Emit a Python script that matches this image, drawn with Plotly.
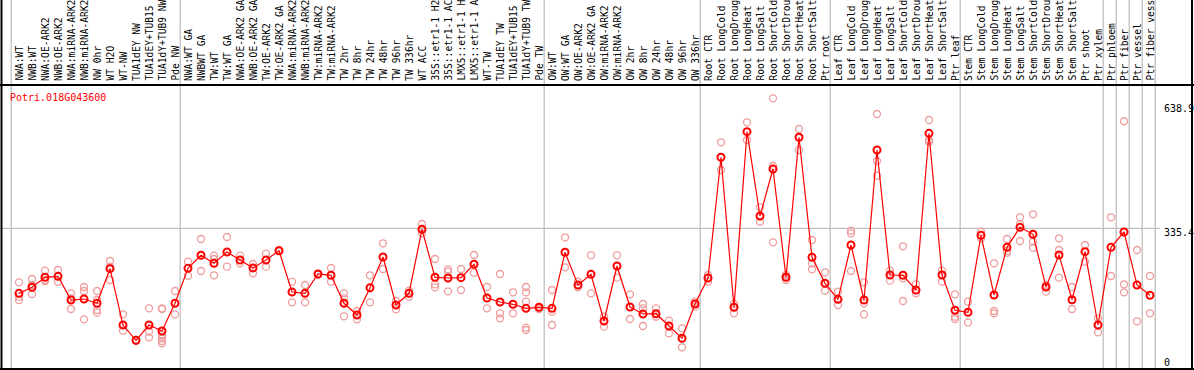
import plotly.graph_objects as go

gene = "Potri.018G043600"

labels = [
    "NWA:WT", "NWB:WT", "NWA:OE-ARK2", "NWB:OE-ARK2", "NWA:miRNA-ARK2", "NWB:miRNA-ARK2",
    "NW 0hr", "WT H2O", "WT-NW", "TUA1dEY NW", "TUA1dEY+TUB15", "TUA1dY+TUB9 NW", "Pde NW",
    "NWA:WT GA", "NWBWT GA", "TW:WT", "TW:WT GA", "NWA:OE-ARK2 GA", "NWB:OE-ARK2 GA",
    "TW:OE-ARK2", "TW:OE-ARK2 GA", "NWA:miRNA-ARK2", "NWB:miRNA-ARK2", "TW:miRNA-ARK2",
    "TW:miRNA-ARK2", "TW 2hr", "TW 8hr", "TW 24hr", "TW 48hr", "TW 96hr", "TW 336hr",
    "WT ACC", "35S::etr1-1 H2", "35S::etr1-1 AC", "LMX5::etr1-1 H", "LMX5::etr1-1 A",
    "WT-TW", "TUA1dEY TW", "TUA1dEY+TUB15", "TUA1dY+TUB9 TW", "Pde TW",
    "OW:WT", "OW:WT GA", "OW:OE-ARK2", "OW:OE-ARK2 GA", "OW:miRNA-ARK2", "OW:miRNA-ARK2",
    "OW 2hr", "OW 8hr", "OW 24hr", "OW 48hr", "OW 96hr", "OW 336hr",
    "Root CTR", "Root LongCold", "Root LongDroug", "Root LongHeat", "Root LongSalt",
    "Root ShortCold", "Root ShortDrou", "Root ShortHeat", "Root ShortSalt", "Ptr root",
    "Leaf CTR", "Leaf LongCold", "Leaf LongDroug", "Leaf LongHeat", "Leaf LongSalt",
    "Leaf ShortCold", "Leaf ShortDrou", "Leaf ShortHeat", "Leaf ShortSalt", "Ptr leaf",
    "Stem CTR", "Stem LongCold", "Stem LongDroug", "Stem LongHeat", "Stem LongSalt",
    "Stem ShortCold", "Stem ShortDrou", "Stem ShortHeat", "Stem ShortSalt", "Ptr shoot",
    "Ptr xylem", "Ptr phloem", "Ptr fiber", "Ptr vessel", "Ptr fiber vess",
]

means = [
    183.7, 197.8, 221.1, 223.4, 168.1, 170.4, 160.4, 241.2, 109.7, 74.0,
    109.7, 95.7, 160.4, 242.1, 272.5, 253.8, 280.2, 261.5, 242.8, 261.5,
    283.2, 186.8, 183.7, 228.8, 225.8, 160.4, 133.1, 196.8, 268.5, 156.4,
    183.7, 333.2, 221.1, 219.5, 220.2, 251.5, 172.8, 163.4, 158.1, 148.7,
    151.1, 148.7, 279.5, 203.1, 228.1, 119.1, 247.5, 151.8, 135.4, 136.1,
    107.4, 78.7, 158.8, 219.5, 501.3, 151.1, 561.1, 364.2, 474.0, 221.1,
    548.0, 267.8, 207.1, 169.7, 296.5, 168.1, 518.3, 226.5, 225.8, 191.5,
    557.3, 226.5, 144.1, 139.4, 319.2, 179.8, 291.1, 337.8, 321.5, 198.5,
    273.2, 168.8, 280.9, 109.7, 291.1, 326.9, 203.1, 179.1,
]

replicates = [
    [209.4, 175.8, 168.1], [217.1, 203.1, 182.1], [236.5, 214.8, 212.5], [238.2, 224.2, 210.8],
    [183.7, 172.1, 147.1], [198.5, 189.1, 123.0], [189.1, 168.1, 144.8, 138.5], [259.2, 245.9, 214.8],
    [134.7, 96.4], [74.0, 74.7, 73.0], [148.7, 94.1, 81.0], [148.7, 147.1, 86.4, 78.7, 72.4, 67.0],
    [189.1, 134.7], [257.5, 224.8], [310.5, 235.8], [271.5, 263.8, 225.8],
    [315.2, 245.9], [271.5, 253.8], [252.2, 230.4], [276.2, 245.9],
    [284.8, 283.2], [210.8, 162.7], [203.1, 162.7], [228.8, 227.6],
    [242.8, 210.8], [183.7, 172.1, 130.0], [142.4, 123.0], [225.8, 162.7],
    [300.5, 240.5], [165.8, 146.4], [189.8, 175.8], [345.6, 323.8],
    [263.8, 204.8, 197.8], [239.8, 234.2, 188.4], [240.5, 220.2, 191.5], [273.2, 231.8],
    [198.5, 148.7], [228.8, 137.1, 125.4], [186.1, 137.1], [198.5, 186.1, 164.1, 103.4, 98.1],
    [151.1, 147.1], [191.5, 140.8, 109.7], [314.5, 244.4], [210.8, 197.8],
    [272.5, 183.7], [129.1, 105.8], [272.5, 220.2], [181.3, 123.7],
    [158.8, 148.7, 107.4], [148.7, 129.1], [119.8, 90.4], [102.0, 57.7],
    [164.1, 152.5], [226.5, 210.8], [536.3, 471.6], [158.8, 137.1],
    [583.0, 541.7], [384.5, 350.9], [638.9, 481.0, 302.8], [226.5, 214.8],
    [567.4, 518.3], [308.2, 253.8, 239.8], [232.8, 189.8], [187.5, 156.4],
    [329.9, 323.8, 235.8], [209.4, 160.4, 134.7], [602.4, 492.6, 458.3], [236.5, 213.2],
    [293.5, 218.8, 165.8], [204.8, 183.7], [588.4, 541.7, 537.7], [236.5, 210.8],
    [181.3, 129.1, 123.7], [164.1, 116.0], [327.6, 312.2], [253.8, 142.4, 137.1],
    [310.5, 283.2, 278.5], [361.2, 345.6, 305.9], [368.2, 304.2, 290.2], [203.1, 187.5],
    [312.2, 284.8, 220.2], [198.5, 147.1], [296.5, 257.5], [125.4, 92.7],
    [361.2, 224.2], [585.4, 204.8, 186.1], [284.8, 118.4], [224.2, 137.1],
]

group_ends = [0, 13, 41, 53, 63, 73, 84, 85, 86, 87, 88]
axis_labels = ["638.9", "335.4", "0"]
ref_value = 335.4

W, H = 1194, 370
TOP = 85  # px of plot-area top

x = list(range(1, len(labels) + 1))
rx, ry = [], []
for i, reps in enumerate(replicates):
    for v in reps:
        rx.append(x[i])
        ry.append(v)

# pixel mapping: category i at px 19 + 13*(i-1)
xr = [1 - 19 / 13, 1 + (W - 19) / 13]
ypx_per_unit = 0.4283
y0_px = 372.0
yr = [(y0_px - H) / ypx_per_unit, (y0_px - TOP) / ypx_per_unit]

fig = go.Figure()
fig.add_trace(go.Scatter(
    x=rx, y=ry, mode="markers",
    marker=dict(symbol="circle-open", size=7, color="#ef9c9c", line=dict(width=1.3)),
    hoverinfo="skip", showlegend=False,
))
fig.add_trace(go.Scatter(
    x=x, y=means, mode="lines+markers",
    line=dict(color="#ff0000", width=1.2),
    marker=dict(symbol="circle-open", size=7, color="#ff0000", line=dict(width=2)),
    showlegend=False,
))

shapes = []
for g in group_ends:
    shapes.append(dict(type="line", xref="x", yref="paper", x0=g + 0.4, x1=g + 0.4,
                       y0=0, y1=1, line=dict(color="#c0c0c0", width=1.3), layer="below"))
shapes.append(dict(type="line", xref="paper", yref="y", x0=0, x1=1160 / W,
                   y0=ref_value, y1=ref_value, line=dict(color="#c0c0c0", width=1.3), layer="below"))
# frame
shapes.append(dict(type="line", xref="paper", yref="paper", x0=0, x1=1,
                   y0=1 - TOP / H, y1=1 - TOP / H, line=dict(color="black", width=2)))
shapes.append(dict(type="line", xref="paper", yref="paper", x0=0, x1=1,
                   y0=1 - 369 / H, y1=1 - 369 / H, line=dict(color="black", width=2)))
shapes.append(dict(type="line", xref="paper", yref="paper", x0=1.5 / W, x1=1.5 / W,
                   y0=1 - 369 / H, y1=1, line=dict(color="black", width=2)))
shapes.append(dict(type="line", xref="paper", yref="paper", x0=1192 / W, x1=1192 / W,
                   y0=1 - 369 / H, y1=1, line=dict(color="black", width=2)))

mono = "DejaVu Sans Mono, monospace"
ann = []
for xi, lab in zip(x, labels):
    ann.append(dict(x=xi, xref="x", y=1 - 83 / H, yref="paper", text=lab, textangle=-90,
                    showarrow=False, xanchor="center", yanchor="bottom",
                    font=dict(family=mono, size=9.6, color="black")))
ann.append(dict(x=8 / W, xref="paper", y=1 - 97 / H, yref="paper", text=gene,
                showarrow=False, xanchor="left", yanchor="middle",
                font=dict(family=mono, size=10, color="#ff0000")))
label_py = [108, 232, 362]
for t, py in zip(axis_labels, label_py):
    ann.append(dict(x=1162 / W, xref="paper", y=1 - py / H, yref="paper", text=t,
                    showarrow=False, xanchor="left", yanchor="middle",
                    font=dict(family=mono, size=10, color="black")))

fig.update_layout(
    width=W, height=H, margin=dict(l=0, r=0, t=0, b=0),
    paper_bgcolor="white", plot_bgcolor="white",
    xaxis=dict(range=xr, domain=[0, 1], showgrid=False, zeroline=False,
               showticklabels=False, ticks="", fixedrange=True),
    yaxis=dict(range=yr, domain=[0, 1 - TOP / H], showgrid=False, zeroline=False,
               showticklabels=False, ticks="", fixedrange=True),
    shapes=shapes, annotations=ann,
)
fig.write_html("out.html", config={"displayModeBar": False},
               post_script="document.body.style.margin='0';document.body.style.overflow='hidden';")
